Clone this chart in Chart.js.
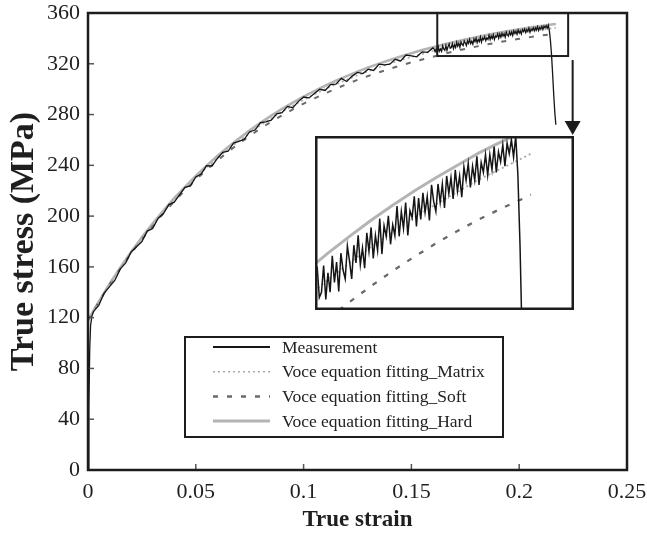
<!DOCTYPE html>
<html><head><meta charset="utf-8">
<script src="https://cdn.jsdelivr.net/npm/chart.js@4.4.1/dist/chart.umd.min.js"></script>
<style>
html,body{margin:0;padding:0;background:#fff;}
#wrap{position:relative;width:647px;height:536px;overflow:hidden;}
#main{position:absolute;left:0;top:0;}
#inset{position:absolute;left:315px;top:136px;}
</style></head><body>
<div id="wrap"><canvas id="main" width="647" height="536"></canvas><canvas id="inset" width="259" height="174"></canvas></div>
<script>
// ---------- DATA ----------
const xTickValues = [0, 0.05, 0.1, 0.15, 0.2, 0.25];
const xTickLabels = ['0', '0.05', '0.1', '0.15', '0.2', '0.25'];
const yTickValues = [0, 40, 80, 120, 160, 200, 240, 280, 320, 360];
const yTickLabels = ['0', '40', '80', '120', '160', '200', '240', '280', '320', '360'];

const seriesLabels = ['Measurement', 'Voce equation fitting_Matrix', 'Voce equation fitting_Soft', 'Voce equation fitting_Hard'];

const measStrain = [0, 0.0004, 0.0008, 0.0012, 0.0018,
  0.0025,0.005,0.0075,0.01,0.0125,0.015,0.0175,0.02,0.0225,0.025,0.0275,0.03,0.0325,0.035,0.0375,0.04,0.0425,0.045,0.0475,0.05,
  0.0525,0.055,0.0575,0.06,0.0625,0.065,0.0675,0.07,0.0725,0.075,0.0775,0.08,0.0825,0.085,0.0875,0.09,0.0925,0.095,0.0975,0.1,
  0.1025,0.105,0.1075,0.11,0.1125,0.115,0.1175,0.12,0.1225,0.125,0.1275,0.13,0.1325,0.135,0.1375,0.14,0.1425,0.145,0.1475,0.15,
  0.1525,0.155,0.1575,0.16,
  0.1605,0.161,0.1615,0.162,0.1625,0.163,0.1635,0.164,0.1645,0.165,
  0.1655,0.166,0.1665,0.167,0.1675,0.168,0.1685,0.169,0.1695,0.17,
  0.1705,0.171,0.1715,0.172,0.1725,0.173,0.1735,0.174,0.1745,0.175,
  0.1755,0.176,0.1765,0.177,0.1775,0.178,0.1785,0.179,0.1795,0.18,
  0.1805,0.181,0.1815,0.182,0.1825,0.183,0.1835,0.184,0.1845,0.185,
  0.1855,0.186,0.1865,0.187,0.1875,0.188,0.1885,0.189,0.1895,0.19,
  0.1905,0.191,0.1915,0.192,0.1925,0.193,0.1935,0.194,0.1945,0.195,
  0.1955,0.196,0.1965,0.197,0.1975,0.198,0.1985,0.199,0.1995,0.2,
  0.2005,0.201,0.2015,0.202,0.2025,0.203,0.2035,0.204,0.2045,0.205,
  0.2055,0.206,0.2065,0.207,0.2075,0.208,0.2085,0.209,0.2095,0.21,
  0.2105,0.211,0.2115,0.212,0.2125,0.213,0.2135,
  0.214,0.2145,0.215,0.2155,0.216,0.2165,0.217];
const measStress = [0, 50, 95, 114, 121,
  124.7,129.7,139.4,144.4,149.5,158.4,163.2,171.8,175.8,180.0,188.2,190.3,198.1,202.0,209.1,211.0,217.0,222.6,223.8,230.8,
  233.2,239.7,239.5,245.4,250.2,251.1,257.5,258.9,260.6,266.5,267.8,273.6,274.2,275.6,280.6,281.5,286.4,285.4,290.2,293.8,
  293.1,296.5,299.9,299.0,303.6,303.9,308.5,306.0,310.3,313.2,312.3,315.7,314.7,319.7,319.2,319.7,323.5,322.2,326.9,326.2,
  325.5,329.4,329.0,332.5,
  331.8,329.5,331.7,328.4,333.2,329.9,331.6,329.8,334.2,331.7,
  330.6,334.4,330.6,333.5,335.7,332.2,332.8,335.8,332.0,335.0,
  332.8,336.9,333.9,336.2,332.9,337.2,335.3,334.3,338.0,336.3,
  334.3,338.1,336.1,339.2,335.9,337.8,335.5,339.5,337.4,340.1,
  336.6,339.2,337.5,341.1,337.1,340.3,339.1,341.4,338.2,340.4,
  339.2,342.5,339.1,341.9,340.0,342.9,339.2,342.0,341.2,343.6,
  340.2,343.4,341.0,344.0,341.8,343.6,340.9,344.9,343.0,341.9,
  345.0,342.9,345.0,342.3,345.9,343.9,345.7,343.3,346.6,344.2,
  345.9,343.5,346.9,345.4,347.3,344.6,347.0,345.4,348.1,344.9,
  347.4,346.3,348.3,346.0,348.3,346.6,349.2,346.3,348.6,347.5,
  349.4,347.0,349.6,348.4,350.0,348.0,350.4,
  346.0,338.0,327.0,312.0,296.0,282.0,272.0];

const fitStrain = [0,0.005,0.01,0.015,0.02,0.025,0.03,0.035,0.04,0.045,
  0.05,0.055,0.06,0.065,0.07,0.075,0.08,0.085,0.09,0.095,
  0.1,0.105,0.11,0.115,0.12,0.125,0.13,0.135,0.14,0.145,
  0.15,0.155,0.16,0.165,0.17,0.175,0.18,0.185,0.19,0.195,
  0.2,0.205,0.21,0.215,0.217];
const hardStress = [118,132.7,146.5,159.5,171.8,183.3,194.2,204.4,214.1,223.1,
  231.7,239.8,247.3,254.5,261.2,267.5,273.5,279.1,284.4,289.4,
  294.1,298.5,302.7,306.6,310.3,313.8,317.0,320.1,323.0,325.8,
  328.3,330.8,333.1,335.2,337.2,339.1,340.9,342.6,344.2,345.7,
  347.1,348.5,349.7,350.9,351.4];
const matrixStress = [118,132.6,146.3,159.2,171.4,182.8,193.6,203.7,213.3,222.2,
  230.2,238.2,245.6,252.7,259.3,265.5,271.4,276.9,282.1,287.0,
  291.6,295.9,300.0,303.8,307.5,310.9,314.2,317.2,320.1,322.8,
  325.3,327.8,330.1,332.2,334.2,336.1,337.9,339.6,341.2,342.7,
  344.1,345.5,346.7,347.9,348.4];
const softStress = [118,132.4,146.0,158.7,170.8,181.8,192.2,202.2,211.6,220.3,
  228.7,236.5,243.8,250.7,257.2,263.2,269.0,274.3,279.4,284.1,
  288.6,292.7,296.7,300.4,304.0,307.3,310.4,313.3,316.1,318.7,
  321.1,323.4,325.6,327.8,329.8,331.7,333.5,335.2,336.8,338.3,
  339.7,341.0,342.2,343.3,343.8];

// zoomed window (main box) and inset axis ranges
const zoomBox = {x0: 0.162, x1: 0.2227, y0: 326.1, y1: 360};
const insetRange = {x0: 0.167, x1: 0.227, y0: 330.8, y1: 350.4};

// ---------- STYLES ----------
const SERIF = "'Liberation Serif', 'DejaVu Serif', serif";
const styles = [
  {color: '#151515', width: 1.3, dash: [], lw: 2},
  {color: '#ababab', width: 1.6, dash: [2, 3], lw: 1.6},
  {color: '#6a6a6a', width: 2, dash: [5, 9], lw: 2.5},
  {color: '#b4b4b4', width: 2.6, dash: [], lw: 3}
];
const pts = (xs, ys) => xs.map((x, i) => ({x: x, y: ys[i]}));
function makeDatasets(scaleW) {
  const all = [pts(measStrain, measStress), pts(fitStrain, matrixStress), pts(fitStrain, softStress), pts(fitStrain, hardStress)];
  return all.map((d, i) => ({
    label: seriesLabels[i], data: d,
    borderColor: styles[i].color, borderWidth: styles[i].width * scaleW,
    borderDash: styles[i].dash, pointRadius: 0, fill: false, tension: 0,
    clip: 0
  }));
}

const framePlugin = {
  id: 'frame',
  beforeDraw(chart) {
    const c = chart.ctx; c.save(); c.fillStyle = '#fff'; c.fillRect(0, 0, chart.width, chart.height); c.restore();
  },
  afterDraw(chart) {
    const c = chart.ctx, a = chart.chartArea, xs = chart.scales.x, ys = chart.scales.y;
    c.save();
    // inward ticks
    c.strokeStyle = '#555'; c.lineWidth = 1.5;
    xTickValues.forEach(v => { const p = xs.getPixelForValue(v); c.beginPath(); c.moveTo(p, a.bottom); c.lineTo(p, a.bottom - 6); c.stroke(); });
    yTickValues.forEach(v => { const p = ys.getPixelForValue(v); c.beginPath(); c.moveTo(a.left, p); c.lineTo(a.left + 6, p); c.stroke(); });
    // frame
    c.strokeStyle = '#1c1c1c'; c.lineWidth = 2.5;
    c.strokeRect(a.left, a.top, a.right - a.left, a.bottom - a.top);
    // zoom box
    const bx0 = xs.getPixelForValue(zoomBox.x0), bx1 = xs.getPixelForValue(zoomBox.x1);
    const by0 = ys.getPixelForValue(zoomBox.y1), by1 = ys.getPixelForValue(zoomBox.y0);
    c.lineWidth = 2; c.strokeRect(bx0, by0, bx1 - bx0, by1 - by0);
    // arrow
    const ax = bx1 + 4.5, ay0 = by1 + 4, tip = 135;
    c.lineWidth = 2; c.beginPath(); c.moveTo(ax, ay0); c.lineTo(ax, tip - 12); c.stroke();
    c.fillStyle = '#1c1c1c'; c.beginPath(); c.moveTo(ax - 8, tip - 14); c.lineTo(ax + 8, tip - 14); c.lineTo(ax, tip); c.closePath(); c.fill();
    // legend
    const L = {x: 185, y: 337, w: 318, h: 100};
    c.fillStyle = '#fff'; c.fillRect(L.x, L.y, L.w, L.h);
    c.strokeStyle = '#1c1c1c'; c.lineWidth = 2; c.strokeRect(L.x, L.y, L.w, L.h);
    c.font = '17.5px ' + SERIF; c.textBaseline = 'middle'; c.textAlign = 'left';
    seriesLabels.forEach((lab, i) => {
      const cy = 347 + i * 24.7;
      c.strokeStyle = styles[i].color; c.lineWidth = styles[i].lw; c.setLineDash(styles[i].dash);
      c.beginPath(); c.moveTo(213, cy); c.lineTo(270, cy); c.stroke();
      c.setLineDash([]);
      c.fillStyle = '#222'; c.fillText(lab, 282, cy + 1);
    });
    c.restore();
  }
};

new Chart(document.getElementById('main'), {
  type: 'line',
  data: {datasets: makeDatasets(1)},
  plugins: [framePlugin],
  options: {
    responsive: false, animation: false, devicePixelRatio: 1,
    layout: {padding: {left: 0, right: 20, top: 13, bottom: 0}},
    plugins: {legend: {display: false}, tooltip: {enabled: false}},
    scales: {
      x: {
        type: 'linear', min: 0, max: 0.25,
        grid: {display: false, drawTicks: false}, border: {display: false},
        afterBuildTicks: s => { s.ticks = xTickValues.map(v => ({value: v})); },
        afterFit: s => { s.height = 66; s.paddingLeft = 0; s.paddingRight = 0; },
        ticks: {callback: (v, i) => xTickLabels[i], color: '#1f1f1f', padding: 9, maxRotation: 0,
                font: {family: SERIF, size: 22}},
        title: {display: true, text: 'True strain', color: '#1f1f1f', padding: {top: 2, bottom: 2},
                font: {family: SERIF, size: 23, weight: 'bold'}}
      },
      y: {
        type: 'linear', min: 0, max: 360,
        grid: {display: false, drawTicks: false}, border: {display: false},
        afterBuildTicks: s => { s.ticks = yTickValues.map(v => ({value: v})); },
        afterFit: s => { s.width = 88; s.paddingTop = 0; s.paddingBottom = 0; },
        ticks: {callback: (v, i) => yTickLabels[i], color: '#1f1f1f', padding: 8,
                font: {family: SERIF, size: 22}},
        title: {display: true, text: 'True stress (MPa)', color: '#1f1f1f', padding: {top: 4, bottom: 0},
                font: {family: SERIF, size: 34, weight: 'bold'}}
      }
    }
  }
});

const insetBorder = {
  id: 'insetBorder',
  beforeDraw(chart) { const c = chart.ctx; c.save(); c.fillStyle = '#fff'; c.fillRect(0, 0, chart.width, chart.height); c.restore(); },
  afterDraw(chart) {
    const c = chart.ctx; c.save(); c.strokeStyle = '#1c1c1c'; c.lineWidth = 2.5;
    c.strokeRect(1.25, 1.25, chart.width - 2.5, chart.height - 2.5); c.restore();
  }
};
new Chart(document.getElementById('inset'), {
  type: 'line',
  data: {datasets: makeDatasets(1.15)},
  plugins: [insetBorder],
  options: {
    responsive: false, animation: false, devicePixelRatio: 1,
    layout: {padding: 0},
    plugins: {legend: {display: false}, tooltip: {enabled: false}},
    scales: {
      x: {type: 'linear', display: false, min: insetRange.x0, max: insetRange.x1},
      y: {type: 'linear', display: false, min: insetRange.y0, max: insetRange.y1}
    }
  }
});
</script>
</body></html>
